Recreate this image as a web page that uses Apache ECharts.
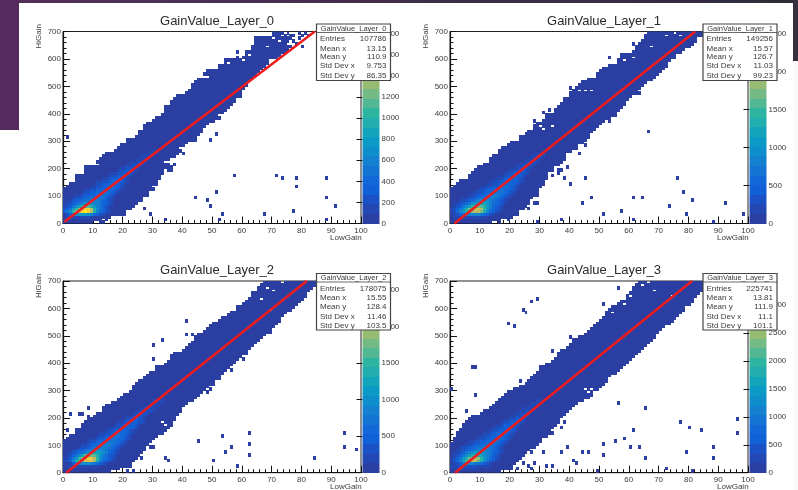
<!DOCTYPE html>
<html>
<head>
<meta charset="utf-8">
<style>html,body{margin:0;padding:0;background:#fff}#c{width:798px;height:490px}</style>
<script src="https://cdn.jsdelivr.net/npm/echarts@6/dist/echarts.min.js"></script>
</head>
<body>
<div id="c"></div>
<script>
// ---- values ----
const layerTitles = ['GainValue_Layer_0','GainValue_Layer_1','GainValue_Layer_2','GainValue_Layer_3'];
const statNames = ['Entries','Mean x','Mean y','Std Dev x','Std Dev y'];
const layer0Stats = ['107786','13.15','110.9','9.753','86.35'];
const layer1Stats = ['149256','15.57','126.7','11.03','99.23'];
const layer2Stats = ['178075','15.55','128.4','11.46','103.5'];
const layer3Stats = ['225741','13.81','111.9','11.1','101.1'];
// colour bands of the palette, bottom to top
const paletteBands = ['#2b3fa3','#2348b4','#1a52c6','#1160d8','#1268d8','#1474d4','#1480d0','#0e8ecb','#0a9ac5','#12a4bb','#22adaf','#2eb5a2','#52b793','#73ba84','#96bc74','#b4bc66','#d0ba58','#e6c04a','#f7cf32','#f9e81e'];
const zMaxes = [1820, 2530, 2620, 3435];
const zIntervals = [200, 500, 500, 500];
// first and last filled LowGain bin of every HiGain row (row height 10)
const layer0Left  = [0,0,0,0,0,0,0,0,0,0,0,0,0,1,2,4,4,4,7,7,7,12,11,12,13,14,17,18,19,21,21,24,25,25,27,27,28,30,31,33,34,34,34,36,36,37,38,41,42,43,43,44,45,49,47,48,52,52,54,54,58,61,61,63,63,64,64,64,70,70];
const layer0Right = [8,12,15,20,20,22,23,24,26,26,28,28,30,29,31,31,31,32,33,33,36,37,35,35,37,38,39,38,40,41,44,44,45,46,46,47,48,50,52,51,53,54,55,56,57,57,59,59,59,60,61,61,62,63,64,65,66,67,68,68,71,72,74,75,76,74,75,76,77,75];
const layer1Left  = [0,0,0,0,0,0,0,0,0,0,0,0,0,1,2,3,6,6,7,8,9,11,13,13,14,16,16,17,19,20,23,23,25,26,28,28,29,31,32,32,35,35,36,37,38,38,40,40,41,42,43,44,46,49,49,50,52,53,56,56,57,57,61,62,62,63,64,65,65,66];
const layer1Right = [13,16,20,22,22,24,25,26,26,27,28,29,29,30,31,31,32,32,32,34,34,36,37,38,38,38,40,42,42,44,45,46,46,47,48,49,50,51,53,55,55,56,57,58,58,59,60,63,62,63,64,65,67,68,69,70,71,72,72,73,75,75,77,78,80,81,82,82,84,85];
const layer2Left  = [0,0,0,0,0,0,0,0,0,0,0,0,1,2,4,4,6,6,7,8,10,11,13,13,14,16,18,19,20,22,23,23,24,25,27,28,29,31,31,34,35,36,36,37,40,41,42,43,44,44,45,47,48,49,50,52,53,55,56,58,58,60,61,62,63,63,65,65,66,67];
const layer2Right = [15,18,21,22,23,24,25,26,27,27,28,29,30,31,33,34,35,36,36,37,37,38,39,39,40,41,43,44,45,46,47,48,50,50,52,52,53,54,55,56,57,58,59,61,61,62,63,64,65,66,67,69,69,70,71,72,72,73,74,76,77,78,79,80,81,81,82,83,84,84];
const layer3Left  = [0,0,0,0,0,0,0,0,0,0,0,1,1,2,2,3,4,4,5,6,7,10,11,13,14,15,16,17,18,19,21,23,25,26,27,28,29,30,30,32,34,35,36,36,37,39,40,41,41,43,45,46,47,48,49,50,51,52,52,53,54,56,57,59,59,60,61,61,62,63];
const layer3Right = [16,19,20,21,22,23,24,25,26,28,29,30,30,32,33,33,34,35,36,36,37,38,39,40,41,42,44,46,47,47,49,50,51,52,52,53,55,56,57,58,59,60,61,62,63,64,65,66,67,68,68,69,70,71,73,74,75,76,77,78,78,80,81,81,82,83,84,84,85,85];
// brighter cells: per row [first bin, palette band, band, ...]
const layer0Core = [[],[],[1,1,1,1,1,1,1,1,1,1],
[1,2,3,5,7,8,8,8,7,6,4,3,2,1],
[0,3,5,7,11,14,16,18,19,18,15,10,6,4,3,2,1],
[0,2,3,5,8,11,14,16,18,18,15,10,7,5,4,2,1],
[0,1,2,3,5,7,9,11,12,12,10,8,6,5,3,2,1],
[0,1,1,2,3,4,5,6,7,7,7,6,6,5,4,3,2,1],
[1,1,1,2,3,3,4,5,5,6,6,6,5,4,3,2,1],
[3,1,2,2,3,3,4,5,5,5,5,5,3,2,1],
[4,1,1,2,3,3,4,4,5,5,5,4,3,2,1],
[6,1,2,2,3,3,4,4,5,5,4,3,2,1],
[7,1,1,2,2,3,3,4,4,5,4,3,2,1],
[9,1,1,2,2,3,3,4,4,4,3,2,1],
[10,1,2,2,3,3,4,4,4,3,2,1],
[11,1,1,2,2,3,3,4,3,3,2,1],
[13,1,1,2,3,3,3,3,2,1],
[15,1,2,2,3,3,3,2,1],
[16,1,1,2,2,3,2,2,1],
[18,1,2,2,3,3,2,1],
[19,1,1,2,2,2,2,1],
[21,1,1,2,2,2,1],
[22,1,1,1,2,2,1],
[24,1,1,1,1,1],
[26,1,1,1,1],
[27,1,1,1,1],
[29,1,1]];
const layer1Core = [[],[],[1,1,1,1,1,1,1,1,1,1,1,1],
[1,1,2,3,4,5,6,6,6,6,5,4,3,2,1],
[0,1,2,4,6,8,10,12,14,15,15,13,10,7,4,3,2,1],
[0,1,2,3,5,7,10,13,15,16,16,15,11,8,5,4,3,2,1],
[1,1,2,3,5,7,9,11,12,13,12,10,8,6,4,3,2,1],
[1,1,1,2,3,4,5,7,8,9,9,9,8,6,5,4,3,2,1],
[3,1,1,2,3,4,5,6,7,7,7,6,5,4,3,2,1],
[4,1,1,2,2,3,4,5,6,6,6,6,5,4,3,2,1],
[6,1,1,2,3,3,4,5,6,6,6,5,4,3,2,1],
[7,1,1,2,2,3,4,4,5,5,5,5,4,3,2,1],
[9,1,2,2,3,3,4,4,5,5,4,4,3,2,1],
[10,1,1,2,2,3,3,4,5,5,4,3,2,1],
[12,1,1,2,2,3,4,4,4,4,3,2,1],
[13,1,1,2,2,3,3,4,4,3,3,2,1],
[15,1,1,2,3,3,4,4,3,2,1],
[16,1,1,2,2,3,3,3,3,2,1],
[18,1,2,2,3,3,3,2,2,1],
[19,1,1,2,2,3,3,2,1],
[21,1,1,2,2,3,2,1],
[22,1,1,2,2,2,2,1],
[24,1,1,2,2,2,1],
[25,1,1,1,2,1,1],
[27,1,1,1,1,1],
[28,1,1,1,1]];
const layer2Core = [[],[],[1,1,1,1,1,1,1,1,1,1,1,1],
[2,1,3,5,6,7,7,7,6,5,4,3,2,1],
[0,1,2,3,7,10,12,14,16,17,17,14,10,6,4,3,2,1],
[0,1,1,3,5,8,11,14,17,18,17,15,11,7,5,4,3,2,1],
[1,1,2,3,5,7,9,12,13,13,12,10,8,6,4,3,2,1],
[2,1,2,3,4,5,6,7,8,9,9,8,7,6,4,3,2,1],
[3,1,2,3,3,4,5,6,7,7,7,6,5,4,3,2,1],
[5,1,2,2,3,4,5,6,6,6,6,5,4,3,2,1],
[6,1,1,2,3,4,4,5,6,6,6,5,4,3,2,1],
[8,1,2,2,3,4,4,5,5,5,5,4,3,2,1],
[9,1,1,2,3,3,4,5,5,5,4,4,3,2,1],
[11,1,2,2,3,3,4,5,5,4,3,2,1],
[12,1,1,2,2,3,4,5,4,4,3,2,1],
[14,1,2,2,3,4,4,4,3,2,1],
[15,1,1,2,2,3,3,4,3,3,2,1],
[17,1,2,2,3,3,3,3,2,1],
[18,1,1,2,2,3,3,3,2,2,1],
[20,1,2,2,3,3,2,2,1],
[21,1,1,2,2,3,2,1],
[23,1,2,2,2,2,1],
[24,1,1,2,2,2,2,1],
[26,1,1,2,2,1,1],
[27,1,1,1,2,1,1],
[29,1,1,1,1,1],
[30,1,1,1,1],
[32,1,1]];
const layer3Core = [[],[1,1,1,1,1,1,1,1,1],[0,1,1,1,2,2,2,2,2,2,1,1,1,1],
[1,1,2,3,5,5,6,6,5,5,4,3,2,1],
[0,1,2,4,6,9,12,14,16,15,12,10,7,5,3,2,1],
[1,2,3,5,8,10,13,14,15,14,11,8,6,4,3,2,1],
[1,1,2,3,5,7,9,10,10,10,9,7,6,5,3,2,1],
[1,1,1,2,3,5,6,7,8,8,8,7,6,5,4,3,2,1],
[2,1,1,2,3,4,4,5,6,6,7,6,5,4,3,2,1],
[3,1,2,2,3,4,4,5,5,6,6,5,4,3,2,1],
[5,1,1,2,3,3,4,4,5,5,5,4,3,2,1],
[6,1,1,2,2,3,3,4,4,5,5,4,3,2,1],
[8,1,1,2,2,3,4,4,5,5,4,3,2,1],
[9,1,1,2,2,3,3,4,4,4,3,2,1],
[11,1,1,2,3,3,4,4,4,3,2,1],
[12,1,1,2,2,3,3,3,4,3,2,1],
[14,1,2,2,3,3,3,3,2,1],
[15,1,1,2,3,3,3,3,2,1],
[17,1,2,2,3,3,3,2,1],
[18,1,1,2,2,3,2,2,1],
[20,1,1,2,2,2,2,1],
[21,1,1,2,2,2,1],
[23,1,1,2,2,1],
[24,1,1,1,1,1],
[26,1,1,1,1],
[27,1,1,1],
[29,1,1]];
// isolated cells [LowGain bin, HiGain bin]
const layer0Outliers = [[1,310],[57,170],[71,170],[73,160],[78,160],[88,160],[78,130],[51,110],[44,90],[48,80],[49,60],[88,90],[91,60],[77,40],[27,50],[29,30],[53,30],[67,30],[34,10],[52,10],[88,10],[32,160],[58,620],[80,640],[51,320],[49,300],[9,0],[12,0],[13,0],[14,10],[37,210],[36,190],[35,190],[40,250],[79,690],[81,690],[82,680],[80,680],[77,660],[78,650],[79,670]];
const layer1Outliers = [[66,330],[53,600],[51,560],[61,650],[38,160],[45,160],[40,140],[76,160],[78,110],[47,90],[61,90],[64,90],[81,80],[44,70],[92,70],[73,60],[57,40],[51,30],[79,30],[98,30],[26,50],[29,100],[27,90],[28,70],[29,70],[26,70],[29,0],[37,10],[61,10],[88,0],[19,10],[16,0],[43,250],[45,280],[28,370],[31,400],[33,410],[40,490],[34,170],[36,190],[37,190],[36,180],[39,200],[53,370],[55,390]];
const layer2Outliers = [[8,230],[2,210],[5,210],[6,210],[8,200],[1,150],[30,460],[33,480],[30,410],[41,550],[41,500],[43,500],[53,130],[62,140],[94,140],[45,110],[62,100],[56,90],[94,90],[98,80],[54,70],[62,60],[84,50],[34,50],[35,40],[50,40],[58,20],[22,20],[23,0],[21,0],[26,50],[24,60],[26,90],[27,90],[29,90],[30,90],[49,300],[48,290],[45,280],[60,410],[57,410],[56,370],[72,560]];
const layer3Outliers = [[29,630],[27,620],[24,590],[25,580],[19,540],[21,530],[7,380],[8,380],[0,300],[8,280],[5,220],[34,440],[37,440],[40,490],[23,330],[56,670],[56,250],[65,230],[77,180],[80,160],[84,150],[96,190],[96,140],[61,150],[58,120],[55,110],[51,100],[60,90],[63,90],[88,90],[39,90],[37,70],[31,70],[27,70],[44,70],[46,70],[79,70],[51,60],[65,50],[88,50],[41,40],[42,30],[24,30],[28,30],[32,20],[34,20],[26,20],[27,10],[22,10],[20,10],[72,10],[81,0],[49,0],[51,610],[34,140],[37,160],[38,180],[35,170]];
// white gaps inside the filled band [LowGain bin, HiGain bin]
const layer0Holes = [[59,600],[60,590],[70,670],[72,660],[74,690],[68,640],[66,680],[35,220],[36,210],[34,220],[55,580],[62,610],[75,680],[73,680]];
const layer1Holes = [[40,480],[41,490],[43,480],[45,480],[47,480],[44,270],[43,270],[67,640],[61,600],[58,590],[75,690],[77,680],[72,680],[42,500],[34,350],[30,350],[31,340]];
const layer2Holes = [[63,660],[68,670],[70,660],[73,690],[33,180],[34,170],[31,110],[32,120],[66,630],[69,590]];
const layer3Holes = [[62,690],[64,680],[66,690],[68,660],[60,640],[58,610],[54,580],[47,300],[46,290],[45,300],[44,230],[72,620],[74,640],[40,200],[37,170]];
// fitted straight line end points [LowGain, HiGain]
const layer0Fit = [[0.5,6],[84.5,700]];
const layer1Fit = [[1.5,0],[82.3,700]];
const layer2Fit = [[1.1,0],[81.8,700]];
const layer3Fit = [[1.7,0],[81.2,700]];

// ---- assembling ----
const lefts = [layer0Left,layer1Left,layer2Left,layer3Left];
const rights = [layer0Right,layer1Right,layer2Right,layer3Right];
const cores = [layer0Core,layer1Core,layer2Core,layer3Core];
const outliers = [layer0Outliers,layer1Outliers,layer2Outliers,layer3Outliers];
const holes = [layer0Holes,layer1Holes,layer2Holes,layer3Holes];
const fits = [layer0Fit,layer1Fit,layer2Fit,layer3Fit];
const stats = [layer0Stats,layer1Stats,layer2Stats,layer3Stats];

function cellsOf(k){
  const z = zMaxes[k]/paletteBands.length, m = new Map();
  lefts[k].forEach((l,r)=>{ for(let x=l;x<=rights[k][r];x++) m.set(x+'_'+r*10,[x,r*10,z*0.5]); });
  holes[k].forEach(h=>m.delete(h[0]+'_'+h[1]));
  outliers[k].forEach(o=>m.set(o[0]+'_'+o[1],[o[0],o[1],z*0.5]));
  cores[k].forEach((row,r)=>{ row.slice(1).forEach((band,i)=>{
    const key=(row[0]+i)+'_'+r*10; if(m.has(key)) m.get(key)[2]=(band+0.5)*z; }); });
  return Array.from(m.values());
}
const frames = [[63,31.5],[450,31.5],[63,281],[450,281]];
const boxes = [[316.5,24],[703,24],[316.5,273.5],[703,273.5]];
const rowYs = [[14.3,24.3,32.7,42,51.3],[14.3,24.3,32.7,42,51.3],[14.8,23.8,32.8,42.8,51.8],[14.8,23.8,32.8,42.8,51.8]];
const FW=298, FH=[192,192,191.7,191.7];
const font='"Liberation Sans"', ink='#3a3a3a';

const grid=[],xAxis=[],yAxis=[],series=[],title=[],graphic=[];
graphic.push(
 {type:'rect',z:-1,shape:{x:0,y:0,width:798,height:3},style:{fill:new echarts.graphic.LinearGradient(0,0,1,0,[{offset:0,color:'#52305a'},{offset:1,color:'#2f2a3a'}])}},
 {type:'rect',z:-1,shape:{x:0,y:0,width:19,height:130},style:{fill:'#552a5c'}},
 {type:'rect',z:-1,shape:{x:793,y:0,width:5,height:61},style:{fill:'#36303e'}},
 {type:'rect',z:-1,shape:{x:793,y:61,width:5,height:429},style:{fill:'#fafafa'}}
);
layerTitles.forEach((t,k)=>{
  const [fx,fy]=frames[k], fh=FH[k];
  title.push({text:t,left:fx+149,top:fy-15.5,textAlign:'center',textVerticalAlign:'middle',
    textStyle:{fontFamily:font,fontSize:13,fontWeight:'normal',color:'#2a2a2a'}});
  grid.push({left:fx,top:fy,width:FW,height:fh,show:true,borderColor:'#222',borderWidth:1,backgroundColor:'#fff',outerBoundsMode:'none'});
  xAxis.push({gridIndex:k,type:'value',min:0,max:100,interval:10,name:'LowGain',nameLocation:'end',nameGap:-31,nameMoveOverlap:false,
    nameTextStyle:{fontFamily:font,fontSize:8,color:ink,padding:[10,0,0,0],verticalAlign:'top'},
    axisLine:{onZero:false,lineStyle:{color:'#111',width:1.2}},
    axisTick:{inside:true,length:7,lineStyle:{color:'#111'}},
    minorTick:{show:true,splitNumber:5,length:3.5,lineStyle:{color:'#111'}},
    splitLine:{show:false},minorSplitLine:{show:false},
    axisLabel:{fontFamily:font,fontSize:8,color:ink,margin:3,hideOverlap:false}});
  yAxis.push({gridIndex:k,type:'value',min:0,max:700,interval:100,name:'HiGain',nameLocation:'end',nameRotate:90,nameGap:-17,nameMoveOverlap:false,
    nameTextStyle:{fontFamily:font,fontSize:8,color:ink,verticalAlign:'bottom',padding:[0,0,20,0]},
    axisLine:{onZero:false,lineStyle:{color:'#111',width:1.2}},
    axisTick:{inside:true,length:7,lineStyle:{color:'#111'}},
    minorTick:{show:true,splitNumber:5,length:3.5,lineStyle:{color:'#111'}},
    splitLine:{show:false},minorSplitLine:{show:false},
    axisLabel:{fontFamily:font,fontSize:8,color:ink,margin:2,hideOverlap:false}});
  series.push({type:'custom',name:t,xAxisIndex:k,yAxisIndex:k,clip:true,silent:true,z:2,
    encode:{x:0,y:1},data:cellsOf(k),
    renderItem:(p,api)=>{
      const x=api.value(0),y=api.value(1),v=api.value(2);
      const a=api.coord([x,y]),b=api.coord([x+1,y+10]);
      const x0=Math.round(a[0]),x1=Math.round(b[0]),y0=Math.ceil(a[1]),y1=Math.floor(b[1]);
      const band=Math.min(paletteBands.length-1,Math.floor(v/zMaxes[k]*paletteBands.length));
      return {type:'rect',shape:{x:x0,y:y1,width:x1-x0,height:y0-y1},style:{fill:paletteBands[band]}};
    }});
  series.push({type:'line',xAxisIndex:k,yAxisIndex:k,data:fits[k],showSymbol:false,symbol:'none',silent:true,z:5,
    lineStyle:{color:'#ee1c1c',width:2.5}});
});
layerTitles.forEach((t,k)=>{
  const [fx,fy]=frames[k], fh=FH[k], gi=k+4, zs=zMaxes[k]/paletteBands.length;
  grid.push({left:fx+FW+1.5,top:fy,width:17,height:fh,show:false,outerBoundsMode:'none'});
  xAxis.push({gridIndex:gi,type:'value',min:0,max:1,show:false});
  yAxis.push({gridIndex:gi,type:'value',position:'right',min:0,max:zMaxes[k],interval:zIntervals[k],
    axisLine:{show:false},axisTick:{inside:true,length:6,lineStyle:{color:'#111'}},splitLine:{show:false},
    axisLabel:{fontFamily:font,fontSize:8,color:ink,margin:2,showMaxLabel:false,hideOverlap:false,formatter:v=>String(v)}});
  series.push({type:'custom',xAxisIndex:gi,yAxisIndex:gi,silent:true,z:2,encode:{x:0,y:1},
    data:paletteBands.map((c,i)=>[0,i*zs,i]),
    renderItem:(p,api)=>{
      const i=api.value(2),a=api.coord([0,i*zs]),b=api.coord([1,(i+1)*zs]);
      const y0=Math.round(a[1]),y1=Math.round(b[1]);
      return {type:'rect',shape:{x:a[0],y:y1,width:b[0]-a[0],height:y0-y1},style:{fill:paletteBands[i]}};
    }});
  // statistics box: zlevel above axes and series
  const [bx,by]=boxes[k];
  const kids=[
    {type:'rect',zlevel:5,z:100,shape:{x:0,y:0,width:74,height:56.5},style:{fill:'#fff',stroke:'#444',lineWidth:1.2}},
    {type:'line',zlevel:5,z:101,shape:{x1:0,y1:8.5,x2:74,y2:8.5},style:{stroke:'#444',lineWidth:0.8}},
    {type:'text',zlevel:5,z:101,x:37,y:4.5,style:{text:t,fill:ink,font:'7.5px '+font,textAlign:'center',textVerticalAlign:'middle'}}
  ];
  statNames.forEach((n,i)=>{
    kids.push({type:'text',zlevel:5,z:101,x:3.5,y:rowYs[k][i],style:{text:n,fill:ink,font:'8px '+font,textAlign:'left',textVerticalAlign:'middle'}});
    kids.push({type:'text',zlevel:5,z:101,x:70,y:rowYs[k][i],style:{text:stats[k][i],fill:ink,font:'8px '+font,textAlign:'right',textVerticalAlign:'middle'}});
  });
  graphic.push({type:'group',x:bx,y:by,children:kids});
});
const chart=echarts.init(document.getElementById('c'),null,{renderer:'canvas'});
chart.setOption({animation:false,backgroundColor:'#fff',title,grid,xAxis,yAxis,series,graphic});
</script>
</body>
</html>
